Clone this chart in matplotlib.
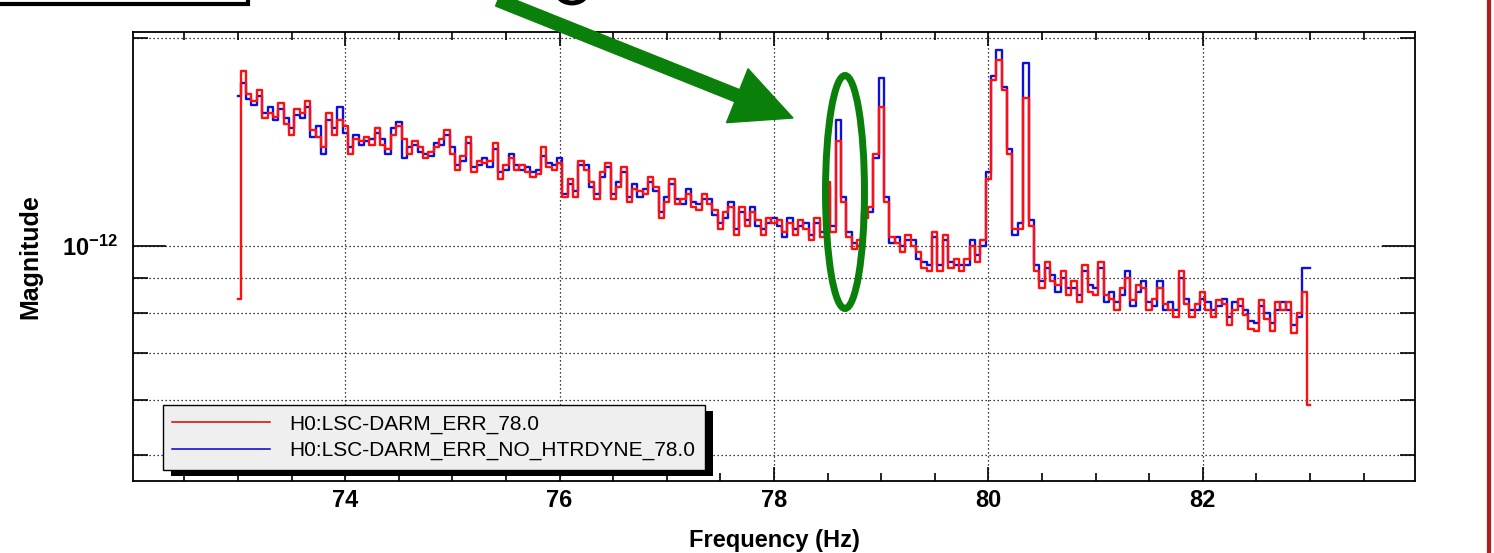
import numpy as np
import matplotlib
matplotlib.use("Agg")
import matplotlib.pyplot as plt
from matplotlib import patches, transforms, ticker
from matplotlib.lines import Line2D

plt.rcParams['font.family'] = ['Liberation Sans', 'DejaVu Sans']
plt.rcParams['mathtext.fontset'] = 'custom'
plt.rcParams['mathtext.rm'] = 'Liberation Sans'
plt.rcParams['mathtext.bf'] = 'Liberation Sans:bold'

# ---------------- data ----------------
freq_start_hz = 73.0
freq_step_hz = 0.05
n_bins = 201
freq_hz = np.round(freq_start_hz + freq_step_hz * np.arange(n_bins), 3)

# magnitudes in units of 1e-13
red_mag = [
    8.4, 17.9, 16.6, 16.2, 16.8, 15.3, 15.6, 15.4, 16.1, 15.0,
    14.5, 15.8, 15.6, 16.2, 14.7, 14.4, 13.9, 15.6, 14.5, 15.2,
    14.9, 13.6, 14.3, 14.2, 14.4, 14.0, 14.8, 14.0, 13.8, 14.5,
    14.9, 14.3, 13.6, 14.2, 13.9, 13.4, 13.7, 13.9, 14.3, 14.7,
    13.6, 12.9, 13.5, 14.4, 12.8, 13.3, 13.2, 13.3, 14.1, 12.5,
    13.1, 13.4, 12.9, 13.1, 12.8, 12.6, 12.7, 13.9, 13.0, 12.9,
    13.2, 11.8, 12.5, 11.8, 13.3, 12.9, 12.4, 11.7, 12.8, 13.2,
    11.7, 12.2, 13.0, 11.6, 12.1, 12.0, 11.9, 12.6, 12.2, 11.0,
    11.6, 12.5, 11.5, 11.7, 11.9, 11.4, 11.3, 11.9, 11.5, 11.3,
    10.6, 11.2, 11.4, 10.4, 11.4, 10.7, 11.2, 10.9, 10.4, 11.0,
    10.8, 10.9, 10.5, 10.8, 10.4, 10.9, 10.6, 10.2, 11.0, 10.3,
    12.4, 10.5, 14.2, 11.6, 10.3, 9.9, 10.2, 11.0, 11.4, 13.6,
    15.9, 11.6, 10.3, 10.1, 9.8, 10.4, 10.0, 9.8, 9.3, 9.2,
    10.5, 9.2, 10.4, 9.3, 9.6, 9.2, 9.6, 10.0, 9.5, 10.2,
    12.5, 17.4, 18.6, 16.8, 13.6, 10.6, 10.6, 16.4, 10.7, 9.2,
    8.7, 9.5, 8.9, 8.8, 9.2, 8.5, 8.9, 8.3, 9.4, 8.6,
    8.5, 9.5, 8.5, 8.4, 8.1, 8.7, 9.0, 8.35, 8.8, 8.7,
    8.1, 8.4, 8.7, 8.25, 8.1, 7.9, 9.2, 8.25, 7.9, 8.25,
    8.6, 8.1, 7.9, 8.35, 8.25, 7.7, 8.1, 8.4, 7.95, 7.6,
    7.55, 8.35, 7.85, 7.55, 8.3, 8.1, 8.3, 7.5, 8.0, 8.6,
    5.9,
]

blue_mag = [
    16.5, 17.2, 16.3, 16.0, 16.5, 15.6, 15.9, 15.2, 15.8, 15.3,
    14.8, 15.5, 15.3, 15.9, 14.4, 14.9, 13.6, 15.2, 14.8, 15.9,
    14.6, 13.9, 14.5, 14.0, 14.2, 14.3, 14.6, 14.3, 13.6, 14.8,
    15.1, 13.4, 13.9, 14.0, 13.7, 13.6, 13.5, 14.1, 14.0, 14.5,
    13.9, 13.1, 13.3, 14.1, 13.0, 13.1, 13.4, 13.0, 13.8, 12.8,
    12.9, 13.6, 13.1, 12.9, 13.0, 12.8, 12.9, 13.5, 13.2, 13.1,
    13.4, 11.9, 12.3, 12.0, 13.1, 13.1, 12.2, 11.9, 12.6, 13.0,
    11.9, 12.4, 12.8, 11.8, 12.3, 11.8, 12.1, 12.4, 12.0, 11.2,
    11.8, 12.3, 11.7, 11.5, 12.1, 11.6, 11.5, 11.7, 11.7, 11.1,
    10.8, 11.0, 11.6, 10.6, 11.2, 10.9, 11.4, 10.7, 10.6, 10.8,
    11.0, 10.7, 10.3, 11.0, 10.6, 10.7, 10.8, 10.4, 10.8, 10.5,
    12.2, 10.7, 15.2, 11.8, 10.5, 10.1, 10.0, 11.2, 11.2, 13.4,
    17.5, 11.8, 10.1, 10.3, 10.0, 10.2, 10.2, 9.6, 9.5, 9.4,
    10.3, 9.4, 10.2, 9.5, 9.4, 9.4, 9.4, 10.2, 9.7, 10.0,
    12.8, 17.6, 19.2, 17.0, 13.8, 10.4, 10.8, 18.4, 10.9, 9.4,
    8.9, 9.3, 9.1, 8.6, 9.0, 8.7, 8.7, 8.5, 9.2, 8.8,
    8.7, 9.3, 8.3, 8.6, 8.3, 8.5, 9.2, 8.2, 8.6, 8.9,
    8.3, 8.2, 8.9, 8.1, 8.3, 8.1, 9.0, 8.4, 8.1, 8.1,
    8.4, 8.3, 8.1, 8.2, 8.4, 7.9, 8.3, 8.2, 8.1, 7.8,
    7.75, 8.2, 8.0, 7.75, 8.1, 8.3, 8.1, 7.7, 7.9, 9.3,
    9.3,
]

series_labels = ["H0:LSC-DARM_ERR_78.0", "H0:LSC-DARM_ERR_NO_HTRDYNE_78.0"]
x_major_ticks = [74, 76, 78, 80, 82]
x_minor_ticks = [72.5, 73.0, 73.5, 74.5, 75.0, 75.5, 76.5, 77.0, 77.5,
                 78.5, 79.0, 79.5, 80.5, 81.0, 81.5, 82.5, 83.0, 83.5]
y_major_ticks = [1e-12]
y_major_labels = [r'$\mathbf{10^{-12}}$']
y_minor_ticks = [5e-13, 6e-13, 7e-13, 8e-13, 9e-13, 2e-12]

red_vals = np.array(red_mag) * 1e-13
blue_vals = np.array(blue_mag) * 1e-13

# ---------------- figure ----------------
W, H = 1494, 553
fig = plt.figure(figsize=(W / 100, H / 100), dpi=100)
fig.patch.set_facecolor('white')
ax = fig.add_axes([133 / W, (H - 481) / H, 1282 / W, 449 / H])

RED = '#ff1010'
BLUE = '#1010d8'
ax.plot(freq_hz, blue_vals, drawstyle='steps-mid', color=BLUE, lw=1.7, zorder=3)
ax.plot(freq_hz, red_vals, drawstyle='steps-mid', color=RED, lw=1.7, zorder=3.1)

ax.set_yscale('log')
ax.set_xlim(72.02, 83.98)
ax.set_ylim(4.58e-13, 2.04e-12)

ax.set_xticks(x_major_ticks, [str(t) for t in x_major_ticks], fontweight='bold', fontsize=17)
ax.set_xticks(x_minor_ticks, minor=True)
ax.set_yticks(y_major_ticks, y_major_labels, fontsize=17)
ax.set_yticks(y_minor_ticks, minor=True)
ax.yaxis.set_minor_formatter(ticker.NullFormatter())

ax.tick_params(axis='x', which='major', direction='in', length=10, width=1.2,
               top=True, bottom=True, pad=6)
ax.tick_params(axis='x', which='minor', direction='in', length=6, width=1.2,
               top=True, bottom=True)
ax.tick_params(axis='y', which='major', direction='in', length=24, width=1.2,
               left=True, right=True, pad=11)
ax.tick_params(axis='y', which='minor', direction='in', length=11, width=1.2,
               left=True, right=True)

grid_kw = dict(color='black', linestyle=(0, (1, 2.2)), linewidth=0.9)
ax.xaxis.grid(True, which='major', **grid_kw)
ax.xaxis.grid(False, which='minor')
ax.yaxis.grid(True, which='both', **grid_kw)

for sp in ax.spines.values():
    sp.set_linewidth(1.3)
    sp.set_color('black')

ax.set_xlabel('Frequency (Hz)', fontsize=17, fontweight='bold')
ax.set_ylabel('Magnitude', fontsize=18, fontweight='bold')
ax.xaxis.label.set_va('center')
ax.yaxis.label.set_va('center')
ax.xaxis.set_label_coords(0.5, (481 - 540) / 449)
ax.yaxis.set_label_coords((30 - 133) / 1282, 0.5)

# legend
handles = [Line2D([], [], color='#dd0000', lw=1.1),
           Line2D([], [], color='#0000cc', lw=1.1)]
leg = ax.legend(handles, series_labels, loc='lower left',
                bbox_to_anchor=((162.5 - 133) / 1282, (481 - 469.6) / 449),
                borderaxespad=0, fontsize=15, handlelength=4.7, handletextpad=0.95,
                labelspacing=0.35, borderpad=0.45, fancybox=False, framealpha=1,
                facecolor='#efefef', edgecolor='black')
leg.get_frame().set_linewidth(1.0)
leg.set_zorder(10)

fig.canvas.draw()
bb = leg.get_window_extent()
shadow = patches.Rectangle((bb.x0 + 8, bb.y0 - 6), bb.width, bb.height,
                           facecolor='black', edgecolor='none',
                           transform=transforms.IdentityTransform(),
                           zorder=9, clip_on=False)
ax.add_artist(shadow)

# ---------------- slide annotations (pixel coords, y downward) ----------------
px = transforms.Affine2D().scale(0.01, -0.01).translate(0, H / 100) + fig.dpi_scale_trans
GREEN = '#0a800a'

arrow = patches.FancyArrow(498, 0, 793 - 498, 118, width=13, head_width=58,
                           head_length=60, length_includes_head=True,
                           color=GREEN, transform=px, clip_on=False, zorder=20)
fig.add_artist(arrow)

ell = patches.Ellipse((845, 192), 39, 233, fill=False, edgecolor=GREEN,
                      linewidth=5, transform=px, zorder=20)
fig.add_artist(ell)

box = patches.Rectangle((-10, -30), 258, 34, fill=False, edgecolor='black',
                        linewidth=3, transform=px, zorder=20)
fig.add_artist(box)

arc = patches.Arc((572, -12), 34, 30, theta1=30, theta2=150, edgecolor='black',
                  linewidth=3.5, transform=px, zorder=20)
fig.add_artist(arc)

bar = Line2D([1489, 1489], [0, H], color='#b01c1c', linewidth=3, transform=px, zorder=20)
fig.add_artist(bar)

fig.savefig('out.png', dpi=100)
